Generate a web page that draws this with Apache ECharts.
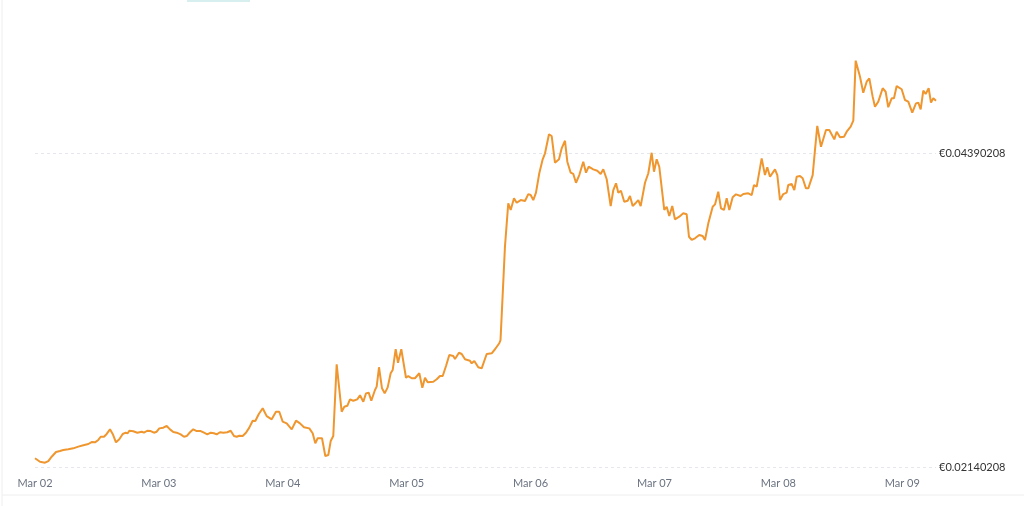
<!DOCTYPE html>
<html>
<head>
<meta charset="utf-8">
<script src="https://cdn.jsdelivr.net/npm/echarts@6/dist/echarts.min.js"></script>
<style>
html,body{margin:0;padding:0;background:#fff;}
#chart{width:1024px;height:506px;}
</style>
</head>
<body>
<div id="chart"></div>
<script>
// Hours since Mar 02 00:00
var hours = [
0,0.97,1.94,2.58,3.23,4.07,4.84,5.48,6.45,7.42,8.39,9.36,10.33,10.98,11.62,12.26,12.73,13.37,13.89,14.53,
15.05,15.69,16.33,16.99,17.57,17.96,18.27,19.04,19.82,20.67,21.11,21.75,22.41,23.05,23.57,24.08,24.85,25.51,26.15,26.79,
27.45,28.22,28.86,29.39,30.03,30.66,31.32,32.1,32.74,33.38,34.04,34.67,35.2,35.84,36.48,37.25,37.91,38.55,39.07,39.58,
40.23,40.87,41.51,42.17,42.68,43.33,44.11,44.88,45.85,46.68,47.32,47.98,48.76,49.73,50.04,50.56,51.33,52.11,53.14,53.79,
54.3,54.76,55.6,56.24,56.82,57.28,57.78,58.44,59.41,59.92,60.5,61.02,61.66,62.43,62.96,63.6,64.12,64.64,65.15,65.86,
66.19,66.64,67.22,67.74,68.32,68.9,69.29,69.87,70.32,70.96,71.87,72.31,72.97,73.61,74.45,75.03,75.55,76.07,77.16,77.82,
78.45,78.98,79.62,80.26,81.03,81.36,82.13,82.66,83.3,84.26,84.59,85.1,85.87,86.53,87.5,88.47,89.11,89.94,90.18,91.04,
91.68,92.15,92.79,93.31,94.09,94.92,95.56,96.02,96.53,97.05,97.69,98.35,98.8,99.13,99.57,100.09,100.73,101.51,102.03,102.67,
103.12,103.77,104.28,104.8,105.44,106.21,106.74,107.26,108.15,108.92,109.58,110.09,110.75,111.52,112.03,112.55,113,113.51,114.15,114.81,
115.26,115.78,116.42,116.87,117.33,118.17,118.81,119.46,119.91,120.43,120.93,121.9,122.37,122.87,123.45,123.97,124.81,125.58,126.24,126.69,
127.21,127.85,128.68,129.34,129.79,130.43,131.28,131.73,132.36,132.89,133.47,133.99,134.5,135.15,135.79,136.7,137.21,138.18,138.84,139.28,
139.81,140.77,141.41,141.86,142.38,143.35,143.8,144.32,144.96,145.61,145.92,146.58,147.09,147.55,148.19,148.71,149.35,149.8,150.65,151.1,
151.54,152.26,153.23,153.87,154.84,155.3,155.94,156.72,157.24,158.01,158.52,158.98,159.82,160.45,161.11,161.62,162.27,162.72,163.36,163.69,
164.21,164.79,165.29,165.95,166.4,166.92,167.89,168.53,169.17,169.94,170.66,171.11,171.57,172.08,172.54,173.12,173.57,174.02,174.54
];
// Price in EUR
var prices = [
0.02203,0.02178,0.02171,0.02183,0.02214,0.02248,0.02255,0.02262,0.02267,0.02274,0.02286,0.02296,0.02305,0.02319,0.02317,0.02334,0.02357,0.02357,0.02377,0.02410,
0.02377,0.02317,0.02339,0.02377,0.02386,0.02382,0.02400,0.02396,0.02386,0.02393,0.02386,0.02400,0.02398,0.02386,0.02393,0.02417,0.02422,0.02434,0.02410,0.02391,
0.02386,0.02374,0.02357,0.02362,0.02389,0.02410,0.02398,0.02398,0.02386,0.02374,0.02386,0.02382,0.02374,0.02389,0.02386,0.02389,0.02400,0.02362,0.02357,0.02364,
0.02362,0.02386,0.02422,0.02472,0.02470,0.02518,0.02561,0.02505,0.02482,0.02536,0.02536,0.02465,0.02453,0.02410,0.02410,0.02472,0.02453,0.02425,0.02417,0.02382,
0.02310,0.02346,0.02346,0.02219,0.02226,0.02326,0.02362,0.02876,0.02536,0.02572,0.02579,0.02625,0.02615,0.02625,0.02654,0.02608,0.02668,0.02673,0.02615,0.02692,
0.02716,0.02855,0.02704,0.02668,0.02711,0.02812,0.02835,0.02984,0.02887,0.02984,0.02780,0.02792,0.02776,0.02776,0.02812,0.02708,0.02780,0.02747,0.02751,0.02769,
0.02792,0.02792,0.02864,0.02943,0.02936,0.02914,0.02959,0.02950,0.02912,0.02902,0.02883,0.02900,0.02855,0.02847,0.02950,0.02955,0.02984,0.03027,0.03050,0.03719,
0.04030,0.03982,0.04066,0.04034,0.04053,0.04046,0.04096,0.04089,0.04053,0.04106,0.04245,0.04345,0.04388,0.04390,0.04524,0.04512,0.04321,0.04345,0.04424,0.04478,
0.04328,0.04249,0.04240,0.04177,0.04232,0.04328,0.04249,0.04292,0.04273,0.04263,0.04240,0.04273,0.04202,0.04010,0.04125,0.04173,0.04106,0.04120,0.04041,0.04048,
0.04082,0.04010,0.04034,0.04053,0.04010,0.04177,0.04245,0.04392,0.04256,0.04345,0.04292,0.03982,0.04005,0.03939,0.04010,0.03915,0.03934,0.03958,0.03951,0.03790,
0.03767,0.03779,0.03803,0.03795,0.03767,0.03886,0.04005,0.04022,0.04113,0.03994,0.03982,0.04066,0.03982,0.04073,0.04094,0.04082,0.04096,0.04101,0.04089,0.04161,
0.04149,0.04352,0.04232,0.04288,0.04220,0.04273,0.04232,0.04053,0.04096,0.04106,0.04161,0.04168,0.04125,0.04220,0.04225,0.04209,0.04137,0.04137,0.04232,0.04412,
0.04584,0.04435,0.04555,0.04555,0.04488,0.04543,0.04503,0.04507,0.04543,0.04579,0.04622,0.05052,0.04937,0.04822,0.04901,0.04925,0.04794,0.04722,0.04758,0.04758,
0.04854,0.04829,0.04718,0.04782,0.04782,0.04870,0.04847,0.04770,0.04758,0.04679,0.04746,0.04751,0.04703,0.04837,0.04813,0.04854,0.04751,0.04782,0.04765
];
var xTickLabels = ['Mar 02','Mar 03','Mar 04','Mar 05','Mar 06','Mar 07','Mar 08','Mar 09'];
var yTickValues = [0.02140208, 0.04390208];

var seriesData = hours.map(function (h, i) { return [h, prices[i]]; });
var yStep = yTickValues[1] - yTickValues[0];

var chart = echarts.init(document.getElementById('chart'), null, {renderer: 'canvas'});
chart.setOption({
  animation: false,
  backgroundColor: '#ffffff',
  grid: {left: 35, right: 88, top: -161, bottom: 39, containLabel: false, outerBoundsMode: 'none'},
  xAxis: {
    type: 'value',
    min: 0,
    max: hours[hours.length - 1],
    interval: 24,
    axisLine: {show: false},
    axisTick: {show: false},
    splitLine: {show: false},
    axisLabel: {
      margin: 11,
      color: '#6b7380',
      fontFamily: 'Lato',
      fontSize: 11,
      showMaxLabel: false,
      formatter: function (v) {
        if (Math.abs(v % 24) > 1e-6) return '';
        return xTickLabels[Math.round(v / 24)] || '';
      }
    }
  },
  yAxis: {
    type: 'value',
    position: 'right',
    min: yTickValues[0],
    max: yTickValues[0] + 2 * yStep,
    interval: yStep,
    axisLine: {show: false},
    axisTick: {show: false},
    splitLine: {show: true, lineStyle: {color: '#e4e7eb', type: [3, 3], width: 1}},
    axisLabel: {
      margin: 3,
      color: '#333',
      fontFamily: 'Lato',
      fontSize: 11,
      showMaxLabel: false,
      formatter: function (v) { return '€' + v.toFixed(8); }
    }
  },
  series: [{
    type: 'line',
    data: seriesData,
    showSymbol: false,
    symbol: 'none',
    smooth: false,
    lineStyle: {color: '#ef962f', width: 2},
    clip: false
  }],
  graphic: [
    {type: 'line', shape: {x1: 2, y1: 0, x2: 2, y2: 506}, style: {stroke: '#eeeeee', lineWidth: 1}, silent: true},
    {type: 'line', shape: {x1: 2, y1: 495, x2: 1024, y2: 495}, style: {stroke: '#eeeeee', lineWidth: 1}, silent: true},
    {type: 'rect', shape: {x: 187, y: 0, width: 63, height: 2}, style: {fill: '#d8eff0'}, silent: true}
  ]
});
</script>
</body>
</html>
